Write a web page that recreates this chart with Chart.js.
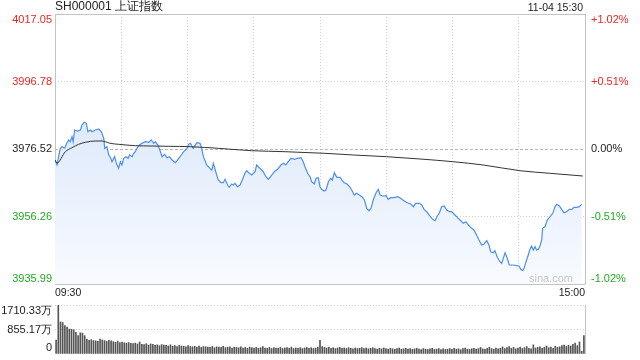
<!DOCTYPE html>
<html>
<head>
<meta charset="utf-8">
<script src="https://cdn.jsdelivr.net/npm/chart.js@4.4.0/dist/chart.umd.min.js"></script>
<style>
  body { margin: 0; background: #fff; }
  #wrap { position: relative; width: 640px; height: 360px; }
  canvas { position: absolute; left: 0; }
</style>
</head>
<body>
<div id="wrap">
  <canvas id="priceChart" width="640" height="300" style="top:0"></canvas>
  <canvas id="volChart" width="640" height="60" style="top:300px"></canvas>
</div>
<script>
const title = 'SH000001 上证指数';
const stamp = '11-04 15:30';
const prevClose = 3976.52;
const priceTicks = [3935.99, 3956.26, 3976.52, 3996.78, 4017.05];
const pctTicks = ['-1.02%', '-0.51%', '0.00%', '+0.51%', '+1.02%'];
const timeTicks = ['09:30', '15:00'];
const volTicks = [0, 855.17, 1710.33];
const volTickLabels = ['0', '855.17万', '1710.33万'];

// minutes after 09:30 (trading time, lunch removed)
const minutes = [
  0, 0.9, 2.4, 3.2, 4.4, 5.4, 6.2, 6.9, 7.7, 8.2, 8.9, 10.0, 11.5, 12.2, 13.3, 14.2, 14.9, 16.0, 16.8, 18.2,
  19.8, 21.0, 22.1, 22.5, 23.5, 24.3, 25.0, 25.8, 27.0, 27.8, 28.8, 29.6, 30.3, 31.1, 32.2, 33.1, 33.8, 34.9, 35.6, 36.4,
  37.1, 38.2, 39.4, 40.9, 42.4, 43.6, 44.7, 45.4, 46.6, 47.2, 48.5, 49.7, 50.7, 51.8, 53.0, 54.5, 55.7, 57.2, 58.3, 59.8,
  60.5, 61.3, 62.6, 64.2, 65.7, 66.4, 67.2, 68.7, 70.2, 71.0, 71.7, 72.8, 73.9, 75.2, 76.2, 77.0, 78.2, 78.9, 80.0, 80.7,
  81.5, 82.6, 83.8, 84.8, 86.0, 86.8, 88.0, 89.1, 90.6, 91.3, 92.8, 94.3, 95.5, 96.6, 97.8, 99.3, 100.8, 102.3, 103.4, 104.5,
  105.6, 106.9, 108.4, 109.9, 111.4, 112.4, 113.2, 114.4, 115.5, 116.2, 117.4, 118.2, 119.2, 120.0, 120.8, 121.9, 122.7, 123.8, 124.8, 125.6,
  126.5, 127.6, 129.1, 130.1, 131.0, 132.4, 133.6, 134.8, 135.5, 136.6, 137.8, 139.0, 140.1, 141.2, 142.2, 143.1, 144.1, 145.4, 146.4, 147.2,
  148.4, 149.9, 150.9, 152.0, 153.5, 155.2, 156.5, 158.0, 159.5, 161.1, 162.3, 163.3, 165.0, 166.1, 167.1, 168.3, 169.8, 171.0, 172.1, 173.1,
  174.0, 175.1, 176.2, 177.4, 178.5, 179.6, 181.1, 182.6, 183.4, 184.9, 186.1, 187.2, 188.7, 189.7, 190.9, 192.0, 193.2, 194.3, 195.5, 196.5,
  197.3, 198.5, 199.2, 200.3, 201.5, 202.3, 203.0, 203.8, 204.8, 205.7, 207.5, 209.1, 210.1, 210.9, 211.8, 212.4, 213.3, 214.3, 215.1, 215.8,
  216.6, 217.4, 218.1, 218.9, 219.6, 220.4, 220.8, 221.9, 222.9, 224.2, 225.4, 226.4, 227.2, 228.4, 229.4, 230.5, 231.7, 232.9, 234.0, 235.0,
  236.2, 237.4, 238.5
];
const prices = [
  3973.22, 3971.72, 3976.73, 3977.21, 3976.82, 3978.32, 3979.22, 3978.71, 3980.21, 3978.71, 3982.22, 3981.92, 3982.22, 3983.73, 3984.53, 3984.23, 3981.71, 3982.22, 3981.71, 3982.22,
  3982.52, 3981.71, 3979.73, 3976.73, 3977.21, 3974.72, 3974.21, 3972.70, 3974.21, 3972.22, 3970.72, 3972.70, 3971.71, 3973.73, 3974.21, 3973.73, 3974.72, 3974.21, 3975.23, 3975.71,
  3976.73, 3977.72, 3978.23, 3978.71, 3978.53, 3979.22, 3978.23, 3978.71, 3977.72, 3976.73, 3974.21, 3974.93, 3973.91, 3974.21, 3973.22, 3972.41, 3973.42, 3974.72, 3975.71, 3976.73,
  3977.93, 3978.23, 3976.73, 3978.41, 3978.23, 3976.73, 3974.21, 3971.71, 3970.72, 3970.21, 3972.22, 3969.70, 3967.21, 3966.40, 3966.40, 3967.42, 3965.71, 3965.02, 3966.01, 3965.71,
  3966.22, 3965.20, 3965.71, 3967.21, 3969.22, 3970.00, 3969.22, 3968.71, 3969.70, 3971.71, 3970.72, 3969.70, 3968.20, 3967.42, 3968.41, 3969.70, 3970.42, 3971.71, 3972.22, 3971.71,
  3972.70, 3973.73, 3973.42, 3973.73, 3973.91, 3972.70, 3971.21, 3969.22, 3968.20, 3966.70, 3966.01, 3967.72, 3967.90, 3965.20, 3964.36, 3963.91, 3964.21, 3966.70, 3967.72, 3967.21,
  3969.40, 3968.02, 3968.02, 3967.00, 3966.40, 3965.92, 3965.02, 3963.70, 3962.71, 3963.22, 3962.71, 3962.20, 3961.21, 3958.71, 3957.99, 3958.71, 3961.21, 3963.40, 3964.42, 3962.71,
  3962.41, 3962.50, 3961.42, 3961.90, 3961.90, 3962.20, 3961.72, 3961.00, 3960.40, 3960.01, 3959.20, 3960.21, 3960.21, 3959.71, 3958.41, 3957.69, 3956.40, 3955.41, 3954.99, 3956.40,
  3957.21, 3959.20, 3959.40, 3958.20, 3957.69, 3957.69, 3956.70, 3955.71, 3955.20, 3954.21, 3954.69, 3953.70, 3952.71, 3952.20, 3950.70, 3949.20, 3947.70, 3948.00, 3948.99, 3947.70,
  3945.69, 3945.39, 3945.99, 3944.00, 3942.68, 3942.20, 3943.70, 3945.39, 3943.70, 3941.69, 3941.69, 3941.48, 3941.39, 3940.40, 3939.98, 3940.70, 3942.68, 3944.69, 3946.40, 3947.40,
  3946.19, 3947.19, 3946.19, 3946.40, 3947.40, 3949.20, 3952.71, 3953.19, 3955.20, 3956.19, 3957.21, 3959.20, 3959.91, 3959.40, 3958.41, 3957.39, 3957.69, 3958.41, 3958.41, 3959.01,
  3959.01, 3959.20, 3959.91
];

const avgMinutes = [0, 0.9, 4.7, 7.7, 10.7, 13.7, 18.2, 21.3, 22.8, 25.0, 28.8, 36.4, 43.9, 51.5, 61.3, 73.9, 89.1, 104.2, 121.9, 135.1, 150.2, 165.3, 180.4, 194.0, 210.6, 224.2, 239.0];
const avgPrices = [3973.22, 3972.31, 3975.71, 3976.91, 3977.93, 3978.53, 3978.92, 3978.92, 3978.71, 3978.23, 3977.93, 3977.51, 3977.42, 3977.33, 3977.21, 3976.73, 3976.01, 3975.71, 3975.23, 3974.72, 3974.21, 3973.52, 3972.70, 3971.71, 3970.00, 3969.22, 3968.41];

// volume per minute, 万手
const volumes = [
  490, 1710, 1120, 1100, 990, 940, 870, 860, 850, 760,
  640, 740, 730, 640, 520, 480, 500, 470, 460, 440,
  520, 490, 470, 440, 480, 460, 430, 410, 450, 400,
  420, 390, 380, 400, 370, 360, 380, 350, 420, 340,
  330, 360, 310, 350, 340, 300, 320, 290, 330, 310,
  300, 280, 320, 270, 290, 260, 300, 280, 270, 250,
  290, 260, 250, 270, 240, 280, 230, 260, 250, 240,
  230, 260, 220, 250, 240, 230, 270, 220, 240, 250,
  210, 240, 230, 220, 250, 210, 230, 200, 240, 220,
  210, 230, 200, 220, 260, 210, 200, 230, 190, 220,
  210, 200, 230, 190, 210, 220, 200, 240, 190, 210,
  200, 220, 190, 210, 230, 200, 220, 190, 210, 240,
  480, 260, 230, 210, 240, 200, 220, 190, 210, 230,
  200, 210, 190, 220, 200, 180, 210, 190, 200, 220,
  190, 210, 180, 200, 220, 190, 170, 200, 180, 210,
  190, 170, 200, 180, 160, 190, 210, 170, 180, 200,
  170, 190, 160, 180, 200, 170, 150, 190, 170, 160,
  180, 200, 160, 170, 190, 150, 180, 160, 170, 190,
  160, 200, 170, 180, 150, 190, 210, 170, 160, 180,
  200, 170, 190, 230, 180, 160, 200, 240, 190, 170,
  210, 180, 200, 250, 190, 220, 260, 200, 230, 180,
  210, 240, 190, 220, 260, 200, 180, 320, 210, 230,
  250, 200, 230, 280, 220, 240, 200, 270, 230, 250,
  290, 310, 260, 300, 280, 340, 380, 290, 420, 100,
  640
];

const FONT = '"Liberation Sans", Arial, sans-serif';
Chart.defaults.font.family = FONT;

function tickColor(v) {
  if (v > prevClose + 0.001) return '#f02424';
  if (v < prevClose - 0.001) return '#23a823';
  return '#222';
}

const priceText = {
  id: 'priceText',
  afterDraw(chart) {
    const { ctx, chartArea: a, scales: { y } } = chart;
    ctx.save();
    ctx.textBaseline = 'middle';
    ctx.font = '11px ' + FONT;
    priceTicks.forEach((v, i) => {
      let py = y.getPixelForValue(v);
      if (i === 0) py -= 5;
      if (i === priceTicks.length - 1) py += 6;
      ctx.fillStyle = tickColor(v);
      ctx.textAlign = 'right';
      ctx.fillText(v.toFixed(2), a.left - 3, py);
      ctx.textAlign = 'left';
      ctx.fillText(pctTicks[i], a.right + 6, py);
    });
    ctx.fillStyle = '#222';
    ctx.font = '10.5px ' + FONT;
    ctx.textAlign = 'left';
    ctx.fillText(timeTicks[0], a.left, a.bottom + 9);
    ctx.textAlign = 'right';
    ctx.fillText(timeTicks[1], a.right, a.bottom + 9);
    ctx.fillText(stamp, a.right - 2, 8);
    ctx.font = '12px ' + FONT;
    ctx.textAlign = 'left';
    ctx.fillText(title, a.left, 7);
    ctx.fillStyle = '#c8c8c8';
    ctx.font = '11px ' + FONT;
    ctx.textAlign = 'right';
    ctx.fillText('sina.com', a.right - 12, a.bottom - 5);
    ctx.restore();
  }
};

const gridColor = (ctx) => {
  const n = ctx.scale.ticks.length;
  if (ctx.index === 0 || ctx.index === n - 1) return '#c4c4c4';
  return '#d0d0d0';
};
const gridDash = (ctx) => {
  const n = ctx.scale.ticks.length;
  if (ctx.index === 0 || ctx.index === n - 1) return [];
  return [1, 2];
};

new Chart(document.getElementById('priceChart'), {
  type: 'line',
  data: {
    datasets: [{
      data: minutes.map((m, i) => ({ x: m, y: prices[i] })),
      borderColor: '#4d8ef2',
      borderWidth: 1.2,
      pointRadius: 0,
      fill: 'start',
      backgroundColor: (c) => {
        const a = c.chart.chartArea;
        if (!a) return 'rgba(220,232,250,1)';
        const g = c.chart.ctx.createLinearGradient(0, a.top, 0, a.bottom);
        g.addColorStop(0, 'rgb(205,222,248)');
        g.addColorStop(1, 'rgb(248,251,255)');
        return g;
      },
      order: 2
    }, {
      data: avgMinutes.map((m, i) => ({ x: m, y: avgPrices[i] })),
      borderColor: '#333',
      borderWidth: 1,
      pointRadius: 0,
      cubicInterpolationMode: 'monotone',
      fill: false,
      order: 1
    }]
  },
  options: {
    responsive: false,
    animation: false,
    layout: { padding: { left: 55, right: 55, top: 14, bottom: 16 } },
    plugins: { legend: { display: false }, tooltip: { enabled: false } },
    scales: {
      x: {
        type: 'linear', min: 0, max: 240,
        ticks: { display: false, stepSize: 30 },
        grid: { color: gridColor, drawTicks: false, lineWidth: 1 },
        border: { display: false, dash: gridDash }
      },
      y: {
        min: priceTicks[0], max: priceTicks[priceTicks.length - 1],
        afterBuildTicks: (s) => { s.ticks = priceTicks.map(v => ({ value: v })); },
        ticks: { display: false },
        grid: {
          color: (c) => c.tick && c.tick.value === prevClose ? '#b8b8b8' : gridColor(c),
          drawTicks: false
        },
        border: {
          display: false,
          dash: (c) => c.tick && c.tick.value === prevClose ? [3, 2] : gridDash(c)
        }
      }
    }
  },
  plugins: [priceText]
});

const volText = {
  id: 'volText',
  afterDraw(chart) {
    const { ctx, chartArea: a, scales: { y } } = chart;
    ctx.save();
    ctx.strokeStyle = '#c4c4c4';
    ctx.lineWidth = 1;
    ctx.beginPath();
    ctx.moveTo(Math.round(a.right) + 0.5, a.top);
    ctx.lineTo(Math.round(a.right) + 0.5, a.bottom);
    ctx.stroke();
    ctx.fillStyle = '#222';
    ctx.font = '11px ' + FONT;
    ctx.textAlign = 'right';
    ctx.textBaseline = 'middle';
    volTicks.forEach((v, i) => {
      let py = y.getPixelForValue(v);
      if (i === 0) py -= 6;
      if (i === volTicks.length - 1) py += 6;
      ctx.fillText(volTickLabels[i], a.left - 3, py);
    });
    ctx.restore();
  }
};

new Chart(document.getElementById('volChart'), {
  type: 'bar',
  data: {
    labels: volumes.map((v, i) => i),
    datasets: [{
      data: volumes,
      backgroundColor: '#555',
      barThickness: 1
    }]
  },
  options: {
    responsive: false,
    animation: false,
    layout: { padding: { left: 55, right: 55, top: 5, bottom: 6 } },
    plugins: { legend: { display: false }, tooltip: { enabled: false } },
    scales: {
      x: {
        offset: true,
        ticks: { display: false },
        grid: { display: false, drawTicks: false },
        border: { display: false }
      },
      y: {
        min: 0, max: volTicks[volTicks.length - 1],
        afterBuildTicks: (s) => { s.ticks = volTicks.map(v => ({ value: v })); },
        ticks: { display: false },
        grid: {
          color: (c) => c.index === 0 ? 'rgba(0,0,0,0)' : '#cfcfcf',
          drawTicks: false
        },
        border: { display: false, dash: [1, 2] }
      }
    }
  },
  plugins: [volText]
});
</script>
</body>
</html>
